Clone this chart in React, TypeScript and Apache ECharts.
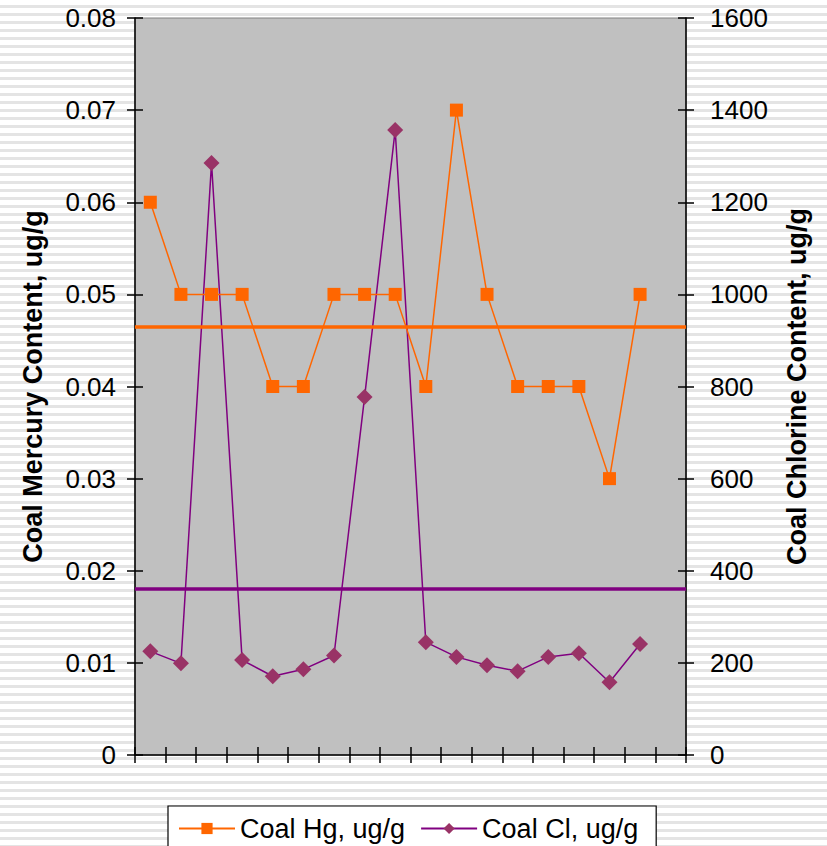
import React, { useEffect, useRef } from "react";
import * as echarts from "echarts";

const categories = ["1","2","3","4","5","6","7","8","9","10","11","12","13","14","15","16","17","18"];
const hgValues = [0.06,0.05,0.05,0.05,0.04,0.04,0.05,0.05,0.05,0.04,0.07,0.05,0.04,0.04,0.04,0.03,0.05,null];
const clValues = [225,199,1285,206,171,186,216,777,1357,245,213,195,182,213,221,158,241,null];
const hgRefLine = 0.0465;
const clRefLine = 360;
const hgName = "Coal Hg, ug/g";
const clName = "Coal Cl, ug/g";
const leftAxisName = "Coal Mercury Content, ug/g";
const rightAxisName = "Coal Chlorine Content, ug/g";

const FONT = "'Liberation Sans', Arial, sans-serif";

export default function App() {
  const ref = useRef<HTMLDivElement>(null);
  useEffect(() => {
    if (!ref.current) return;
    const chart = echarts.init(ref.current, null, { renderer: "svg" });
    const axisLineStyle = { color: "#000", width: 1.5 };
    const labelStyle = { color: "#000", fontSize: 26, fontFamily: FONT };
    chart.setOption({
      animation: false,
      backgroundColor: "transparent",
      grid: {
        left: 135, right: 141, top: 18, bottom: 91,
        show: true, backgroundColor: "#c0c0c0", borderColor: "#808080", borderWidth: 1,
      },
      legend: {
        data: [hgName, clName],
        top: 806, left: 168,
        backgroundColor: "#fff", borderColor: "#000", borderWidth: 1.2,
        padding: [9, 18, 20, 10],
        itemWidth: 56, itemHeight: 14, itemGap: 15,
        textStyle: { color: "#000", fontSize: 27, fontFamily: FONT },
      },
      xAxis: [
        {
          type: "category", data: categories, boundaryGap: true,
          axisLine: { lineStyle: axisLineStyle },
          axisTick: { show: true, inside: false, length: 8, interval: 0, lineStyle: axisLineStyle },
          axisLabel: { show: false },
          splitLine: { show: false },
        },
        {
          type: "category", data: categories, boundaryGap: true, position: "bottom",
          axisLine: { show: false },
          axisTick: { show: true, inside: true, length: 8, interval: 0, lineStyle: axisLineStyle },
          axisLabel: { show: false },
          splitLine: { show: false },
        },
      ],
      yAxis: [
        {
          type: "value", min: 0, max: 0.08, interval: 0.01, position: "left",
          name: leftAxisName, nameLocation: "middle", nameGap: 89,
          nameTextStyle: { color: "#000", fontSize: 27, fontWeight: "bold", fontFamily: FONT },
          axisLine: { show: true, lineStyle: axisLineStyle },
          axisTick: { show: true, inside: false, length: 8, lineStyle: axisLineStyle },
          axisLabel: { ...labelStyle, margin: 19, formatter: (v: number) => (v === 0 ? "0" : v.toFixed(2)) },
          splitLine: { show: false },
        },
        {
          type: "value", min: 0, max: 1600, interval: 200, position: "right",
          name: rightAxisName, nameLocation: "middle", nameGap: 97,
          nameTextStyle: { color: "#000", fontSize: 27, fontWeight: "bold", fontFamily: FONT },
          axisLine: { show: true, lineStyle: axisLineStyle },
          axisTick: { show: true, inside: false, length: 8, lineStyle: axisLineStyle },
          axisLabel: { ...labelStyle, margin: 24, formatter: (v: number) => String(v) },
          splitLine: { show: false },
        },
        {
          type: "value", min: 0, max: 0.08, interval: 0.01, position: "left",
          axisLine: { show: false },
          axisTick: { show: true, inside: true, length: 8, lineStyle: axisLineStyle },
          axisLabel: { show: false },
          splitLine: { show: false },
        },
        {
          type: "value", min: 0, max: 1600, interval: 200, position: "right",
          axisLine: { show: false },
          axisTick: { show: true, inside: true, length: 8, lineStyle: axisLineStyle },
          axisLabel: { show: false },
          splitLine: { show: false },
        },
      ],
      series: [
        {
          name: hgName, type: "line", xAxisIndex: 0, yAxisIndex: 0, data: hgValues,
          symbol: "rect", symbolSize: 13,
          itemStyle: { color: "#ff6600" },
          lineStyle: { color: "#ff6600", width: 1.5 },
          markLine: {
            silent: true, symbol: "none", label: { show: false }, precision: 6,
            lineStyle: { color: "#ff6600", width: 3.5, type: "solid" },
            data: [{ yAxis: hgRefLine }],
          },
          z: 3,
        },
        {
          name: clName, type: "line", xAxisIndex: 0, yAxisIndex: 1, data: clValues,
          symbol: "diamond", symbolSize: 16,
          itemStyle: { color: "#993366" },
          lineStyle: { color: "#800080", width: 1.5 },
          markLine: {
            silent: true, symbol: "none", label: { show: false }, precision: 6,
            lineStyle: { color: "#800080", width: 3.5, type: "solid" },
            data: [{ yAxis: clRefLine }],
          },
          z: 2,
        },
      ],
    });
    return () => chart.dispose();
  }, []);
  return (
    <div
      style={{
        position: "absolute", left: 0, top: 0, width: 827, height: 846,
        background: "repeating-linear-gradient(to bottom, #ffffff 0px, #ffffff 5px, #e4e4e4 5px, #e4e4e4 8px)",
      }}
    >
      <div ref={ref} style={{ width: 827, height: 846 }} />
    </div>
  );
}
